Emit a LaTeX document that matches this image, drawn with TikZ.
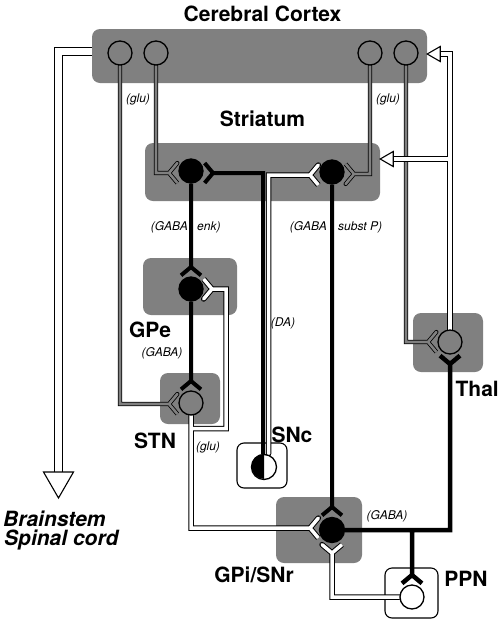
\documentclass[tikz,border=0pt]{standalone}
\usepackage{fontspec}
\setmainfont{TeX Gyre Heros}
\usetikzlibrary{positioning,calc}

\pgfdeclarelayer{back}
\pgfdeclarelayer{wires}
\pgfsetlayers{back,wires,main}

\definecolor{hatch}{gray}{0.5}

\tikzset{
  region/.style={fill=hatch, rounded corners=8pt, inner sep=0pt},
  whitebox/.style={draw, line width=1.1pt, fill=white, rounded corners=7pt, inner sep=0pt},
  cell/.style={circle, draw, line width=1.3pt, fill=hatch, minimum size=24pt, inner sep=0pt},
  gabacell/.style={cell, fill=black},
  title/.style={font=\fontsize{21}{17}\selectfont\bfseries, inner sep=0pt},
  bigital/.style={title, font=\fontsize{21}{18}\selectfont\bfseries\itshape},
  tag/.style={font=\fontsize{12}{14}\selectfont\itshape, inner sep=0pt},
  gaba/.style={draw, line width=4pt},
  glu/.style={draw, line width=1pt, double=white, double distance=3.5pt, line cap=round},
  ctxax/.style={draw, line width=0.8pt, double=hatch, double distance=2.6pt, line cap=round},
  bigax/.style={draw, line width=1.2pt, double=white, double distance=6.5pt},
  openhead/.style={draw, line width=1.1pt, fill=white, line join=miter},
  syn/.style={insert path={coordinate (sv) -- ++(#1+50:13) -- (sv) -- ++(#1-50:13)}}
}

\begin{document}
\begin{tikzpicture}[x=1pt, y=-1pt]
\useasboundingbox (0,0) rectangle (500,622);

\begin{pgfonlayer}{back}
  \node[region, minimum width=335pt, minimum height=54pt] (ctx) at (259.5,56) {};
  \node[region, minimum width=235pt, minimum height=58pt] (str) at (262.5,172) {};
  \node[region, minimum width=94pt, minimum height=57pt] (gpebox) at (190,286.5) {};
  \node[region, minimum width=60pt, minimum height=51pt] (stnbox) at (190,398.5) {};
  \node[region, minimum width=86pt, minimum height=66pt] (gpibox) at (319,530) {};
  \node[region, minimum width=70pt, minimum height=59pt] (thalbox) at (448,342.5) {};
  \node[whitebox, minimum width=50pt, minimum height=45pt] (sncbox) at (262,465.5) {};
  \node[whitebox, minimum width=53pt, minimum height=50pt] (ppnbox) at (411.5,593) {};
\end{pgfonlayer}

% cells
\node[cell] (c1) at (120,53) {};
\node[cell] (c2) at (156,53) {};
\node[cell] (c3) at (370,53) {};
\node[cell] (c4) at (406,53) {};
\node[gabacell] (s1) at (191,171) {};
\node[gabacell] (s2) at (332,172) {};
\node[gabacell] (gpe) at (191,289) {};
\node[cell] (stn) at (191,403) {};
\node[gabacell, minimum size=25pt] (gpi) at (332,530) {};
\node[cell] (thal) at (450,342) {};
\node[cell, fill=white] (ppn) at (412,597) {};
\node[cell, fill=white, minimum size=25pt] (snc) at (264,467) {};
\fill[black] (snc.north) arc[start angle=90, end angle=270, radius=12.5pt] -- cycle;
\coordinate (bs) at (58.5,472);

\begin{pgfonlayer}{wires}
  \draw[bigax] ($(ctx.west)+(0,-4.5)$) -| (bs);
  \draw[ctxax] (c1.south) |- ($(stn)+(-22,1)$) [syn=0];
  \draw[ctxax] (c2.south) |- ($(s1)+(-22,2)$) [syn=0];
  \draw[ctxax] (c3.south) |- ($(s2)+(22,2)$) [syn=180];
  \draw[ctxax] (c4.south) |- ($(thal)+(-22,0)$) [syn=0];
  \draw[glu, double distance=4pt] (thal.north) |- ($(ctx.east)+(12,-2)$)
        ($(str.east)+(12,-13)$) -| (thal.north);
  \draw[gaba] (s1.south) -- ($(gpe)+(0,-22)$) [syn=90];
  \draw[gaba] (s2.south) -- ($(gpi)+(0,-23)$) [syn=90];
  \draw[gaba] (gpe.south) -- ($(stn)+(0,-22)$) [syn=90];
  \draw[gaba] ($(snc.north)+(-1,0)$) |- ($(s1)+(22,2)$) [syn=180];
  \draw[glu] ($(snc.north)+(4.5,0)$) |- ($(s2)+(-22,3)$) [syn=0];
  \draw[glu] (stn.south) |- ($(gpi)+(-22,-2)$) [syn=0]
        ($(stn.south)+(0,13)$) -| ($(gpe)+(35,0)$) -- ($(gpe)+(21,0)$) [syn=180];
  \draw[gaba, line width=4.5pt] (gpi.east) -| ($(thal)+(0,22)$) [syn=270]
        (ppn |- gpi) -- ($(ppn)+(0,-22)$) [syn=90];
  \draw[glu] (ppn.west) -| ($(gpi)+(0,23)$) [syn=270];
\end{pgfonlayer}

\draw[openhead] ($(ctx.east)+(0,-2)$) -- ++(13,-7.5) -- ++(0,15) -- cycle;
\draw[openhead] ($(str.east)+(0,-13)$) -- ++(13,-7.5) -- ++(0,15) -- cycle;
\draw[openhead] ($(bs)+(-15,0)$) -- ($(bs)+(15,0)$) -- ($(bs)+(0,26)$) -- cycle;

% labels
\node[title, above=7pt of ctx, xshift=3pt] (lctx) {Cerebral Cortex};
\node[title, above=16pt of str] (lstr) {Striatum};
\node[title, anchor=base] (lgpe) at (150,337) {GPe};
\node[title, anchor=base] (lstn) at (155,448) {STN};
\node[title, anchor=base] (lsnc) at (292,442) {SNc};
\node[title, anchor=base east] (lthal) at (499,396) {Thal};
\node[title, anchor=base] (lgpi) at (254,582) {GPi/SNr};
\node[title, anchor=base] (lppn) at (466,586) {PPN};
\node[bigital, anchor=base west] (lbs1) at (3,526) {Brainstem};
\node[bigital, anchor=base west] (lbs2) at (4,545) {Spinal cord};

\node[tag] (tglu1) at (138,99) {(glu)};
\node[tag] (tglu2) at (388,99) {(glu)};
\node[tag, anchor=east] (tenk1) at (188,227) {(GABA};
\node[tag, anchor=west] (tenk2) at (197,227) {enk)};
\node[tag, anchor=east] (tsp1) at (327,227) {(GABA};
\node[tag, anchor=west] (tsp2) at (338,227) {subst P)};
\node[tag] (tda) at (283,323) {(DA)};
\node[tag] (tgpe) at (162,353) {(GABA)};
\node[tag] (tstn) at (208,447) {(glu)};
\node[tag] (tgpi) at (387,516) {(GABA)};
\end{tikzpicture}
\end{document}
